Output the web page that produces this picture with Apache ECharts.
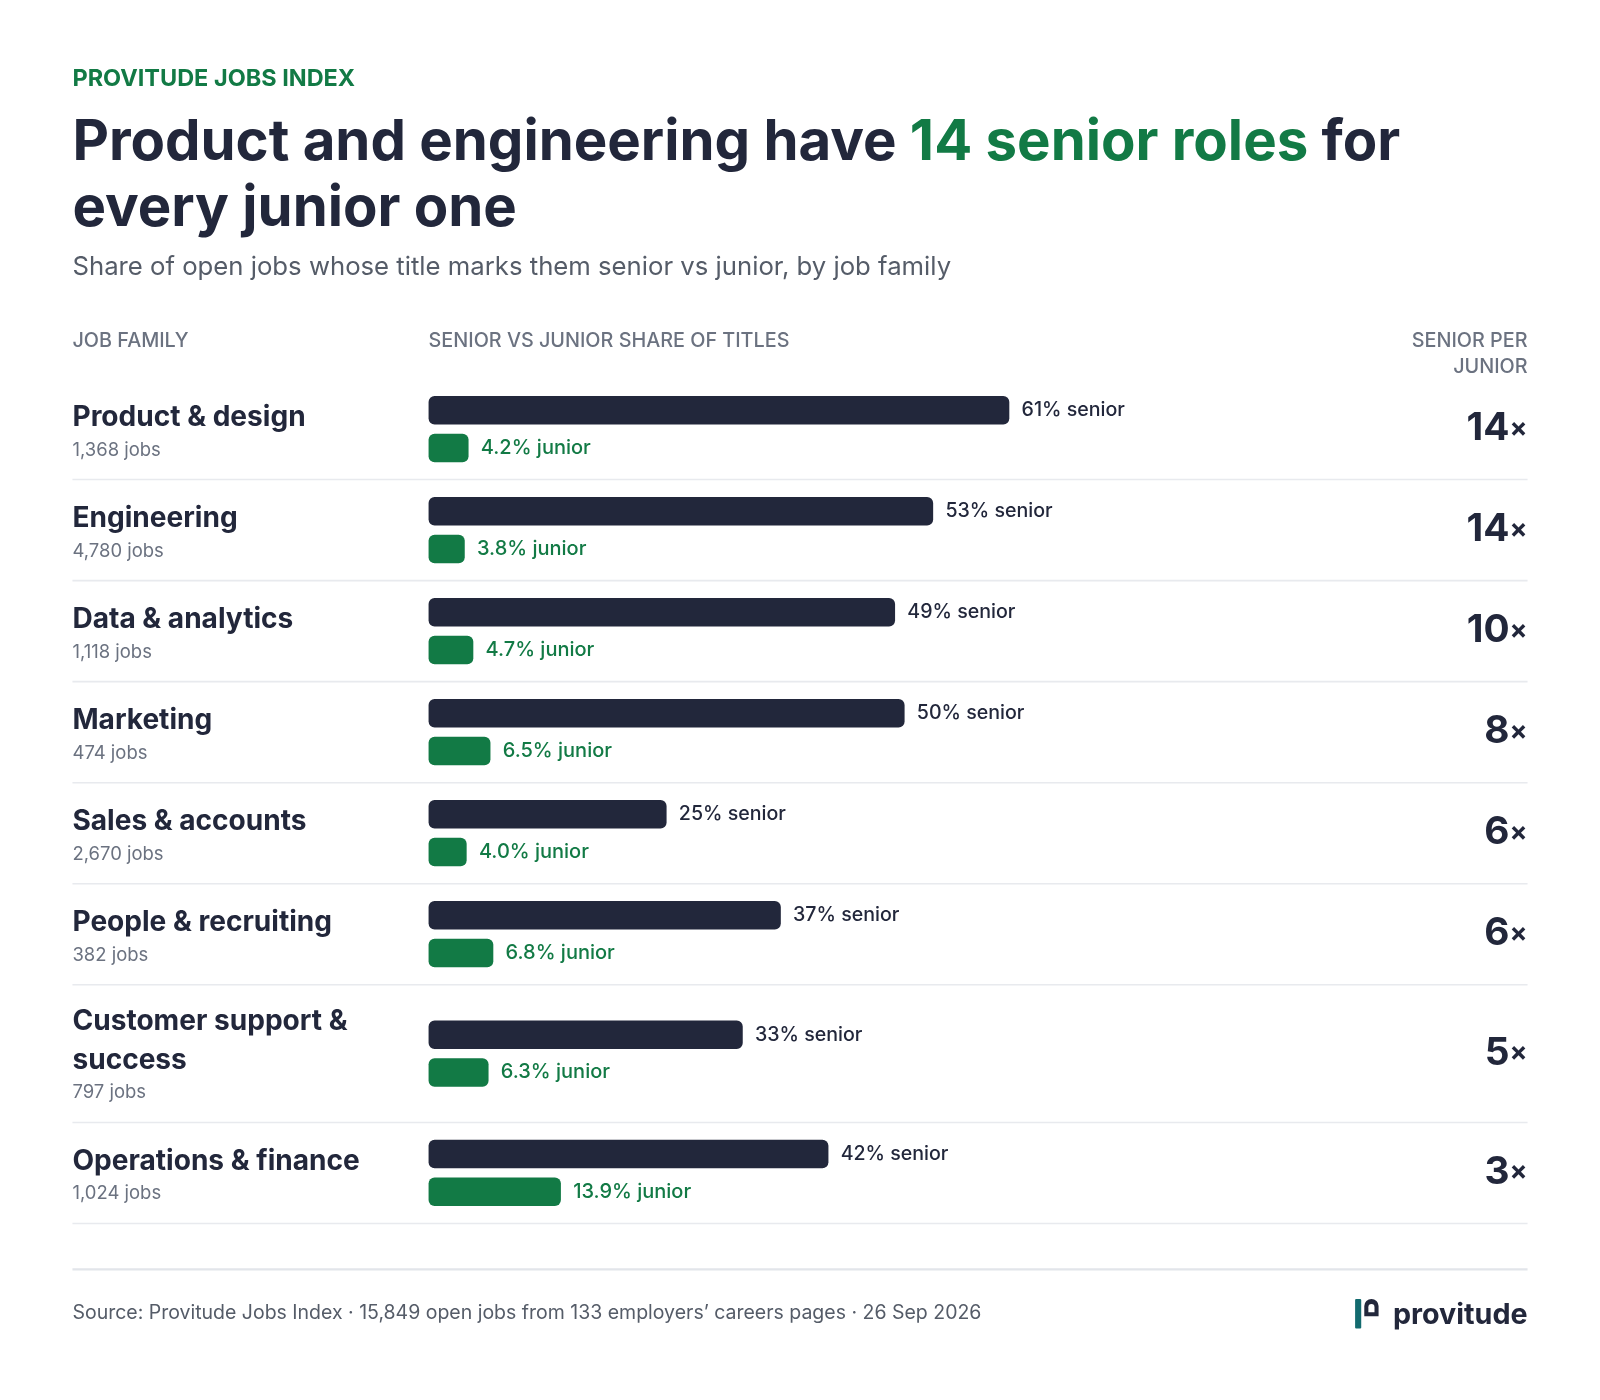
<!DOCTYPE html>
<html><head><meta charset="utf-8">
<script src="https://cdn.jsdelivr.net/npm/echarts@6/dist/echarts.min.js"></script>
<style>html,body{margin:0;background:#fff}#c{width:1600px;height:1400px}</style>
</head><body><div id="c"></div>
<script>
const families = ['Product & design','Engineering','Data & analytics','Marketing','Sales & accounts','People & recruiting','Customer support &\nsuccess','Operations & finance'];
const jobs = ['1,368 jobs','4,780 jobs','1,118 jobs','474 jobs','2,670 jobs','382 jobs','797 jobs','1,024 jobs'];
const senior = [61,53,49,50,25,37,33,42];
const junior = [4.2,3.8,4.7,6.5,4.0,6.8,6.3,13.9];
const ratio = ['14','14','10','8','6','6','5','3'];

const K=1/0.98;
const F='Inter, "Noto Sans", sans-serif';
const DARK='#22273b', GREEN='#127a45', GRAY='#6b7280';
const rowCenter=[402,501,600,699,798,897,1014,1131];
const seps=[470,569,668,767,866,965,1100,1199];
const grids=[],xAxes=[],yAxes=[],series=[],g=[];
const T=(x,y,text,style)=>g.push({type:'text',x,y,style:Object.assign({text,fill:DARK,fontFamily:F,verticalAlign:'middle'},style)});

T(71,77,'PROVITUDE JOBS INDEX',{fill:GREEN,fontSize:23,fontWeight:700});
g.push({type:'text',x:71,y:140,style:{verticalAlign:'middle',rich:{a:{fontSize:55.2,fontWeight:700,fontFamily:F,fill:DARK},g:{fontSize:55.2,fontWeight:700,fontFamily:F,fill:GREEN}},text:'{a|Product and engineering have }{g|14 senior roles}{a| for}'}});
T(71,205,'every junior one',{fontSize:55.2,fontWeight:700});
T(71,262,'Share of open jobs whose title marks them senior vs junior, by job family',{fontSize:25.2,fill:'#555c68'});
const H={fontSize:19.4,fontWeight:500,fill:GRAY};
T(71,334,'JOB FAMILY',H);
T(420,334,'SENIOR VS JUNIOR SHARE OF TITLES',H);
T(1497,334,'SENIOR PER',Object.assign({align:'right'},H));
T(1497,360,'JUNIOR',Object.assign({align:'right'},H));

families.forEach((name,i)=>{
  const c=rowCenter[i];
  grids.push({left:420*K,width:933*K,top:(c-18.5)*K,height:74*K});
  xAxes.push({gridIndex:i,type:'value',min:0,max:100,show:false});
  yAxes.push({gridIndex:i,type:'category',data:['senior','junior'],inverse:true,show:false});
  series.push({type:'bar',xAxisIndex:i,yAxisIndex:i,barWidth:28*K,silent:true,
    data:[{value:senior[i],itemStyle:{color:DARK,borderRadius:6},label:{formatter:senior[i]+'% senior',color:DARK,fontSize:19.2*K,fontWeight:500}},
          {value:junior[i],itemStyle:{color:GREEN,borderRadius:6},label:{formatter:junior[i].toFixed(1)+'% junior',color:GREEN,fontSize:19.6*K,fontWeight:500}}],
    label:{show:true,position:'right',distance:12*K,fontFamily:F}});
  const mid=c+18;
  if(i===6){
    T(71,1001,'Customer support &',{fontSize:27.5,fontWeight:700});
    T(71,1039,'success',{fontSize:27.5,fontWeight:700});
    T(71,1071,jobs[i],{fontSize:18.1,fill:GRAY});
  } else {
    T(71,c+7,name,{fontSize:27.5,fontWeight:700});
    T(71,c+39,jobs[i],{fontSize:18.1,fill:GRAY});
  }
  g.push({type:'text',x:1497,y:mid,style:{align:'right',verticalAlign:'middle',text:'{n|'+ratio[i]+'}{x|×}',rich:{n:{fontSize:38,fontWeight:700,fontFamily:F,fill:DARK},x:{fontSize:26,fontWeight:700,fontFamily:F,fill:DARK}}}});
  g.push({type:'line',shape:{x1:71,y1:seps[i],x2:1497,y2:seps[i]},style:{stroke:'#e8eaee',lineWidth:1.5}});
});
g.push({type:'line',shape:{x1:71,y1:1244,x2:1497,y2:1244},style:{stroke:'#e2e5ea',lineWidth:2}});
T(71,1287,'Source: Provitude Jobs Index · 15,849 open jobs from 133 employers’ careers pages · 26 Sep 2026',{fontSize:19.1,fill:'#555c68'});
g.push({type:'rect',shape:{x:1328,y:1273,width:6,height:29,r:1},style:{fill:'#136b6f'}});
g.push({type:'rect',shape:{x:1337,y:1273,width:14,height:17,r:[7,7,0,0]},style:{fill:DARK}});
g.push({type:'rect',shape:{x:1341,y:1278,width:6,height:8,r:[3,3,0,0]},style:{fill:'#fff'}});
T(1497,1289,'provitude',{fontSize:28.1,fontWeight:700,align:'right'});

const chart=echarts.init(document.getElementById('c'));
chart.setOption({animation:false,backgroundColor:'#fff',grid:grids,xAxis:xAxes,yAxis:yAxes,series,
  graphic:{elements:[{type:'group',scaleX:K,scaleY:K,children:g}]}});
</script></body></html>
